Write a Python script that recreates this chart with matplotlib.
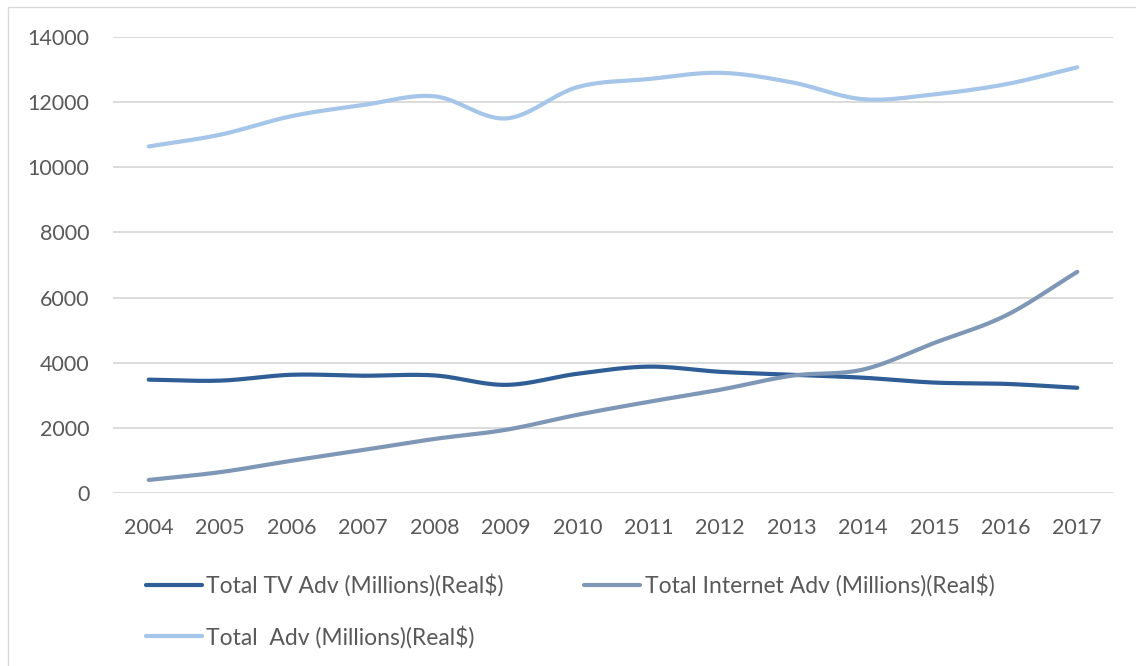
import numpy as np
import matplotlib.pyplot as plt
from matplotlib.patches import Rectangle

plt.rcParams['font.family'] = ['Lato', 'DejaVu Sans']

years = [2004, 2005, 2006, 2007, 2008, 2009, 2010, 2011, 2012, 2013, 2014, 2015, 2016, 2017]
tv_adv = [3480, 3450, 3630, 3600, 3610, 3320, 3660, 3880, 3720, 3630, 3540, 3390, 3350, 3230]
internet_adv = [400, 640, 990, 1320, 1660, 1940, 2400, 2800, 3170, 3600, 3790, 4610, 5450, 6790]
total_adv = [10640, 11000, 11570, 11910, 12180, 11500, 12460, 12710, 12900, 12610, 12090, 12240, 12550, 13070]

labels = ['Total TV Adv (Millions)(Real$)', 'Total Internet Adv (Millions)(Real$)',
          'Total  Adv (Millions)(Real$)']
colors = ['#2F5D95', '#7F97B7', '#A5C5E9']
grey = '#595959'


def smooth(x, y, n=30):
    # catmull-rom through the points, like excel's smoothed line
    x = np.asarray(x, float)
    y = np.asarray(y, float)
    px = np.concatenate([[2 * x[0] - x[1]], x, [2 * x[-1] - x[-2]]])
    py = np.concatenate([[2 * y[0] - y[1]], y, [2 * y[-1] - y[-2]]])
    xs, ys = [], []
    t = np.linspace(0, 1, n)
    for i in range(1, len(px) - 2):
        for p, out in ((px, xs), (py, ys)):
            p0, p1, p2, p3 = p[i - 1], p[i], p[i + 1], p[i + 2]
            out.extend(0.5 * (2 * p1 + (-p0 + p2) * t + (2 * p0 - 5 * p1 + 4 * p2 - p3) * t ** 2
                              + (-p0 + 3 * p1 - 3 * p2 + p3) * t ** 3))
    return np.array(xs), np.array(ys)


fig = plt.figure(figsize=(11.36, 6.66), dpi=100)
fig.patches.append(Rectangle((8 / 1136, -0.1), 1.2, 1 - 7 / 666 + 0.1, transform=fig.transFigure,
                             fill=False, edgecolor='#D9D9D9', lw=1))
ax = fig.add_axes([113 / 1136, 1 - 493 / 666, 1000 / 1136, 456 / 666])

pos = np.arange(len(years))
handles = []
for vals, col, lab in zip([tv_adv, internet_adv, total_adv], colors, labels):
    sx, sy = smooth(pos, vals)
    h, = ax.plot(sx, sy, color=col, lw=3, solid_capstyle='round', label=lab)
    handles.append(h)

ax.set_xlim(-0.5, len(years) - 0.5)
ax.set_ylim(0, 14000)
ax.set_yticks(range(0, 14001, 2000))
ax.set_xticks(pos)
ax.set_xticklabels(years)
ax.grid(axis='y', color='#D9D9D9', lw=1.3)
ax.set_axisbelow(True)
for s in ax.spines.values():
    s.set_visible(False)
ax.tick_params(length=0, labelsize=15.5, colors=grey)
ax.tick_params(axis='y', pad=17)
ax.tick_params(axis='x', pad=18)

# legend fills column by column, so reorder to get TV | Internet on the first row
order = [0, 2, 1]
fig.legend([handles[i] for i in order], [labels[i] for i in order], ncol=2, loc='upper left',
           bbox_to_anchor=(125 / 1136, 1 - 553 / 666), frameon=False, fontsize=16.5,
           handlelength=2.45, handletextpad=0.2, columnspacing=3.5, labelspacing=1.25,
           labelcolor=grey)

fig.savefig('out.png', dpi=100)
